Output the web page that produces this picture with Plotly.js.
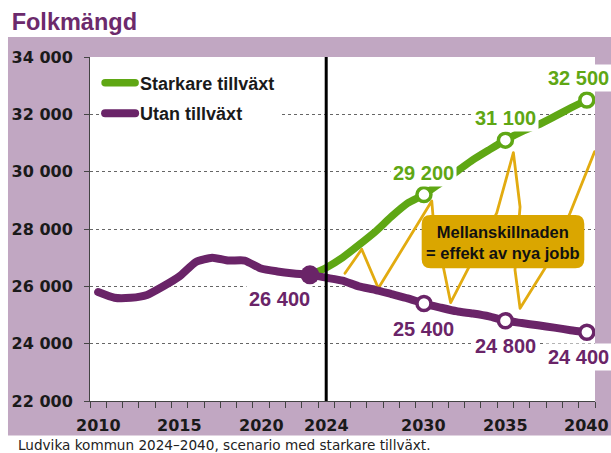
<!DOCTYPE html>
<html>
<head>
<meta charset="utf-8">
<script src="https://cdn.plot.ly/plotly-3.0.1.min.js"></script>
<style>
html,body{margin:0;padding:0;background:#fff;}
#chart{width:611px;height:453px;}
.js-line{stroke-linecap:round !important;stroke-linejoin:round !important;}
</style>
</head>
<body>
<div id="chart"></div>
<script>
// ---- data ----
const years = [2010,2011,2012,2013,2014,2015,2016,2017,2018,2019,2020,2021,2022,2023,2024,2025,2026,2027,2028,2029,2030,2031,2032,2033,2034,2035,2036,2037,2038,2039,2040];
const utanTillvaxt = [25800,25600,25600,25700,26000,26350,26850,27000,26900,26900,26620,26520,26450,26400,26300,26200,26000,25880,25730,25580,25400,25260,25130,25050,24950,24800,24720,24640,24560,24470,24400];
const starkYears = [2023,2024,2025,2026,2027,2028,2029,2030,2031,2032,2033,2034,2035,2036,2037,2038,2039,2040];
const starkareTillvaxt = [26400,26650,27000,27440,27900,28430,28900,29200,29600,30000,30410,30760,31100,31400,31630,31920,32220,32500];
const markedYears = [2030,2035,2040];
const startYear = 2023;
const xTickLabels = [2010,2015,2020,2024,2030,2035,2040];
const yTickVals = [22000,24000,26000,28000,30000,32000,34000];
// hand-drawn highlight squiggle (year, population)
const squiggleX = [2025.15,2026.18,2027.2,2030.48,2030.56,2031.64,2034.47,2035.49,2035.9,2035.59,2035.9,2037.44,2038.97,2040.48];
const squiggleY = [26455,27293,25932,28977,28419,25430,28559,30662,28768,26571,25235,26640,28559,30700];
const seriesNames = ['Starkare tillväxt','Utan tillväxt'];
const calloutText = 'Mellanskillnaden<br>= effekt av nya jobb';
const captionText = 'Ludvika kommun 2024–2040, scenario med starkare tillväxt.';

// ---- styles ----
const GREEN = '#5fa714';
const PURPLE = '#6a2468';
const GOLD = '#daa600';
const BAND = '#c1a7c2';
const FONT = 'Liberation Sans, Arial, sans-serif';
const TICKFONT = 'DejaVu Sans, Verdana, sans-serif';

const fmt = (v, sep) => String(Math.round(v)).replace(/\B(?=(\d{3})+(?!\d))/g, sep || ' ');
const valAt = (xs, ys, yr) => ys[xs.indexOf(yr)];

const traces = [
  {x: squiggleX, y: squiggleY, mode:'lines', line:{color:'#e2ab10', width:2.8}, showlegend:false, hoverinfo:'skip'},
  {x: starkYears, y: starkareTillvaxt, name: seriesNames[0], legendgroup:'a', mode:'lines', line:{color:GREEN, width:7.5, shape:'spline', smoothing:0.5}},
  {x: years, y: utanTillvaxt, name: seriesNames[1], legendgroup:'b', mode:'lines', line:{color:PURPLE, width:8, shape:'spline', smoothing:0.5}},
  {x: markedYears, y: markedYears.map(y=>valAt(starkYears, starkareTillvaxt, y)), mode:'markers', showlegend:false,
   marker:{size:14, color:'#fff', line:{color:GREEN, width:3.5}}},
  {x: markedYears, y: markedYears.map(y=>valAt(years, utanTillvaxt, y)), mode:'markers', showlegend:false,
   marker:{size:14, color:'#fff', line:{color:PURPLE, width:3.5}}},
  {x: [startYear], y: [valAt(years, utanTillvaxt, startYear)], mode:'markers', showlegend:false,
   marker:{size:19, color:PURPLE}}
];

const annotations = [];
const labelFont = c => ({family:FONT, size:20, weight:'bold', color:c});
annotations.push({x:startYear, y:valAt(years, utanTillvaxt, startYear), text:fmt(valAt(years, utanTillvaxt, startYear)),
  showarrow:false, xshift:-30, yshift:-24, font:labelFont(PURPLE), bgcolor:'#fff', borderpad:2});
markedYears.forEach((yr,i)=>{
  const dx = (i===2) ? -8 : 0;
  annotations.push({x:yr, y:valAt(years, utanTillvaxt, yr), text:fmt(valAt(years, utanTillvaxt, yr)), showarrow:false,
    xshift:dx, yshift:-25, font:labelFont(PURPLE), bgcolor:'#fff', borderpad:2});
  annotations.push({x:yr, y:valAt(starkYears, starkareTillvaxt, yr), text:fmt(valAt(starkYears, starkareTillvaxt, yr)), showarrow:false,
    xshift:dx, yshift:22, font:labelFont(GREEN), bgcolor:'#fff', borderpad:2});
});
xTickLabels.forEach(yr=>{
  annotations.push({x:yr, xref:'x', y:0, yref:'paper', xanchor:'center', yanchor:'middle', yshift:-24, text:String(yr), showarrow:false,
    font:{family:TICKFONT, size:16, weight:'bold', color:'#1a1a1a'}});
});
annotations.push({x:0.8178, y:0.4603, xref:'paper', yref:'paper', xanchor:'center', yanchor:'middle', text:calloutText,
  showarrow:false, font:{family:FONT, size:16.5, weight:'bold', color:'#111'}});
annotations.push({x:-0.1465, y:-0.1279, xref:'paper', yref:'paper', xanchor:'left', yanchor:'middle',
  text:captionText, showarrow:false, font:{family:TICKFONT, size:13.6, color:'#222'}});

const bx0=0.6568, bx1=0.9788, by0=0.3858, by1=0.5407, rx=0.0178, ry=0.0262;
const boxPath = `M${bx0+rx},${by0} L${bx1-rx},${by0} Q${bx1},${by0} ${bx1},${by0+ry} L${bx1},${by1-ry} Q${bx1},${by1} ${bx1-rx},${by1} L${bx0+rx},${by1} Q${bx0},${by1} ${bx0},${by1-ry} L${bx0},${by0+ry} Q${bx0},${by0} ${bx0+rx},${by0} Z`;

const shapes = [
  {type:'rect', xref:'paper', yref:'paper', x0:-0.1624, x1:1.05, y0:-0.1003, y1:1.0581, fillcolor:BAND, line:{width:0}, layer:'below'},
  {type:'rect', xref:'paper', yref:'paper', x0:0, x1:1, y0:0, y1:1, fillcolor:'#fff', line:{width:0}, layer:'below'},
  {type:'line', xref:'x', yref:'paper', x0:2024, x1:2024, y0:0, y1:1, line:{color:'#000', width:3}, layer:'above'},
  {type:'path', xref:'paper', yref:'paper', path:boxPath, fillcolor:GOLD, line:{width:0}, layer:'above'}
];

const layout = {
  width:611, height:453,
  margin:{l:90, r:16, t:57, b:52},
  paper_bgcolor:'#fff', plot_bgcolor:'#fff',
  font:{family:FONT, color:'#1a1a1a'},
  title:{text:'Folkmängd', x:0.0191, xref:'container', xanchor:'left', y:0.951, yref:'container', yanchor:'middle',
    font:{family:FONT, size:23.5, weight:'bold', color:'#6c2a6c'}},
  showlegend:true,
  legend:{x:0.02, y:0.978, xanchor:'left', yanchor:'top', bgcolor:'#fff', traceorder:'grouped', tracegroupgap:4,
    font:{family:FONT, size:18, weight:'bold', color:'#1a1a1a'}},
  xaxis:{range:[2009.5,2040.5], tick0:2009.5, dtick:1, tickmode:'linear', ticks:'outside', ticklen:6, tickcolor:'#444', tickwidth:1,
    showticklabels:false, showgrid:false, zeroline:false, showline:true, linecolor:'#444', linewidth:1, fixedrange:true},
  yaxis:{range:[22000,34000], tickmode:'array', tickvals:yTickVals, ticktext:yTickVals.map(v=>fmt(v)), ticks:'outside', ticklen:5,
    tickcolor:'#444', showgrid:true, gridcolor:'#666', griddash:'dot', gridwidth:1, zeroline:false, showline:true,
    linecolor:'#444', linewidth:1, ticklabelstandoff:8, tickfont:{family:TICKFONT, size:16, weight:'bold', color:'#1a1a1a'}, fixedrange:true},
  annotations: annotations,
  shapes: shapes,
  hovermode:false
};

Plotly.newPlot('chart', traces, layout, {displayModeBar:false, staticPlot:true});
</script>
</body>
</html>
